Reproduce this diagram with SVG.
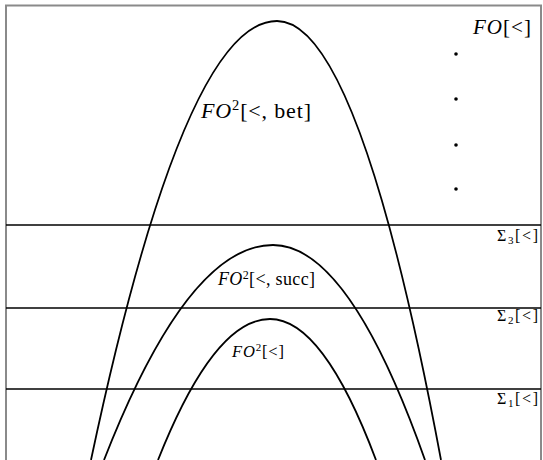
<svg xmlns="http://www.w3.org/2000/svg" width="543" height="460" viewBox="0 0 543 460">
<style>
.frame{fill:none;stroke:#8a8a8a;stroke-width:2}
.curve{fill:none;stroke:#000;stroke-width:1.8}
.hline{fill:none;stroke:#000;stroke-width:1.5}
text{font-family:"Liberation Serif","DejaVu Serif",serif;fill:#000}
.it{font-style:italic}
.dot{fill:#000}
</style>
<rect x="0" y="0" width="543" height="460" fill="#fff"/>
<path class="frame" d="M6,460 V5.5 H541 V460"/>
<g id="connectors">
<line class="hline" x1="6" y1="225" x2="541" y2="225"/>
<line class="hline" x1="6" y1="308" x2="541" y2="308"/>
<line class="hline" x1="6" y1="389" x2="541" y2="389"/>
</g>
<g id="fo2-bet">
<path class="curve" d="M91,460 Q184,21 277,21 Q359,21 441,460"/>
<text x="201" y="118" font-size="22" textLength="110" lengthAdjust="spacing"><tspan class="it">FO</tspan><tspan font-size="14.5" dy="-8.5">2</tspan><tspan dy="8.5">[&lt;, bet]</tspan></text>
</g>
<g id="fo2-succ">
<path class="curve" d="M104,460 Q188,245 273,245 Q349,245 425,460"/>
<text x="218" y="285" font-size="18" textLength="97" lengthAdjust="spacing"><tspan class="it">FO</tspan><tspan font-size="12" dy="-6.5">2</tspan><tspan dy="6.5">[&lt;, succ]</tspan></text>
</g>
<g id="fo2">
<path class="curve" d="M158,460 Q214,319 270,319 Q323,319 376,460"/>
<text x="232" y="357" font-size="16.5" textLength="52" lengthAdjust="spacing"><tspan class="it">FO</tspan><tspan font-size="11" dy="-6">2</tspan><tspan dy="6">[&lt;]</tspan></text>
</g>
<g id="fo">
<text x="473" y="34" font-size="21" textLength="58" lengthAdjust="spacing"><tspan class="it">FO</tspan>[&lt;]</text>
<circle class="dot" cx="456" cy="54" r="1.8"/>
<circle class="dot" cx="456" cy="99" r="1.8"/>
<circle class="dot" cx="456" cy="145" r="1.8"/>
<circle class="dot" cx="456" cy="189" r="1.8"/>
</g>
<g id="sigma3"><text x="497" y="241" font-size="16" textLength="41" lengthAdjust="spacing">Σ<tspan font-size="11" dy="3">3</tspan><tspan dy="-3">[&lt;]</tspan></text></g>
<g id="sigma2"><text x="497" y="321" font-size="16" textLength="41" lengthAdjust="spacing">Σ<tspan font-size="11" dy="3">2</tspan><tspan dy="-3">[&lt;]</tspan></text></g>
<g id="sigma1"><text x="497" y="404" font-size="16" textLength="41" lengthAdjust="spacing">Σ<tspan font-size="11" dy="3">1</tspan><tspan dy="-3">[&lt;]</tspan></text></g>
</svg>
